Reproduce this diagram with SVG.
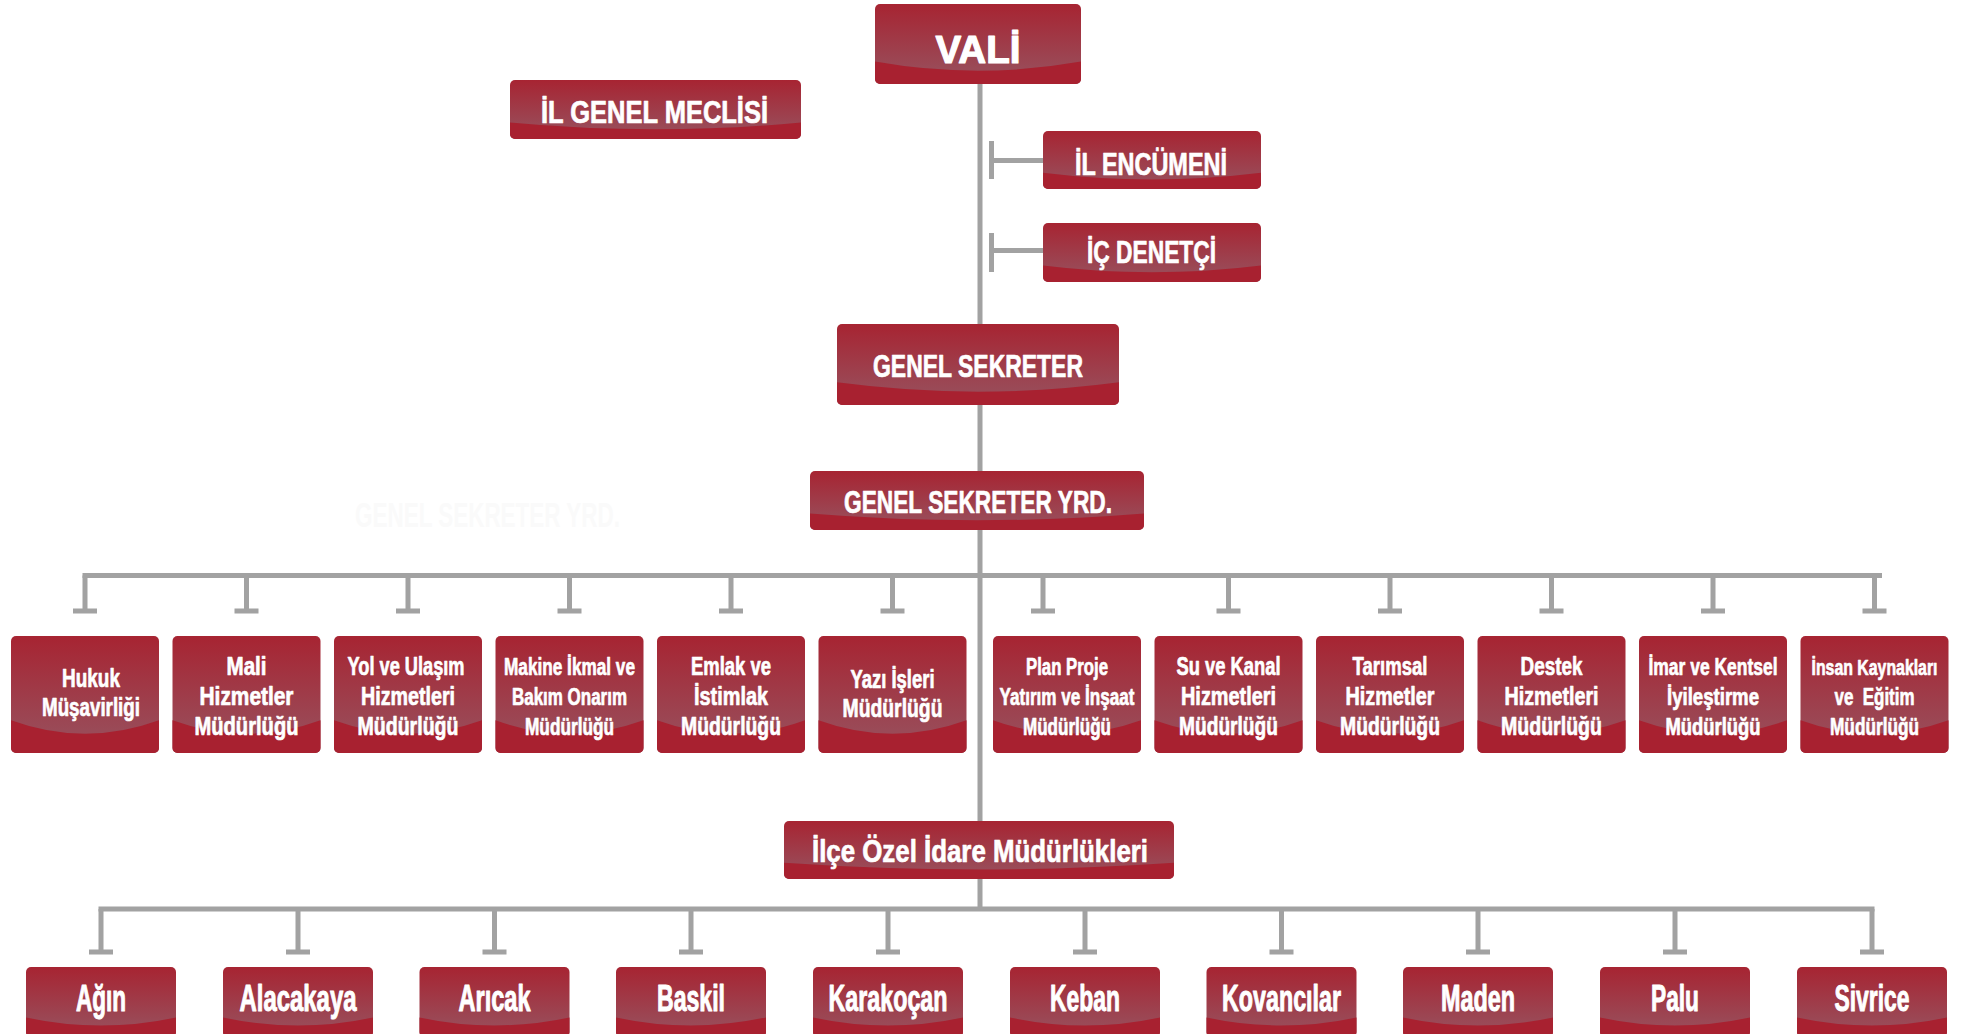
<svg xmlns="http://www.w3.org/2000/svg" xmlns:xlink="http://www.w3.org/1999/xlink" width="1961" height="1034" viewBox="0 0 1961 1034">
<style>
.t{font-family:"Liberation Sans Narrow","Liberation Sans",Arial,sans-serif;font-weight:bold;fill:#ffffff;text-anchor:middle;stroke:#ffffff;stroke-width:0.7px;stroke-linejoin:round}
.d{font-size:26px}
.ds{font-size:24px}
.dd{font-size:36px;stroke-width:1px}
.h{font-size:31px}
.bot{fill:#a82130}
.glo{fill:url(#gl)}
#connectors path{stroke:#a2a2a2;stroke-width:5;fill:none}
</style>
<defs>
<linearGradient id="gl" x1="0" y1="0" x2="0" y2="1">
<stop offset="0" stop-color="#a72432"/>
<stop offset="0.8" stop-color="#9a4a57"/>
<stop offset="1" stop-color="#9a4c59"/>
</linearGradient>
<g id="deptShape"><rect class="glo" width="148" height="117" rx="5"/><path class="bot" d="M0,84.2 Q74,111.2 148,84.2 V112 A5,5 0 0 1 143,117 H5 A5,5 0 0 1 0,112 Z"/></g>
<g id="distShape"><rect class="glo" width="150" height="70" rx="5"/><path class="bot" d="M0,50.4 Q75,66.5 150,50.4 V65 A5,5 0 0 1 145,70 H5 A5,5 0 0 1 0,65 Z"/></g>
</defs>
<rect width="1961" height="1034" fill="#ffffff"/>
<text x="487.5" y="527" font-size="35" font-weight="bold" text-anchor="middle" font-family="'Liberation Sans Narrow','Liberation Sans',Arial,sans-serif" textLength="265" lengthAdjust="spacingAndGlyphs" fill="#fafafa">GENEL SEKRETER YRD.</text>
<g id="connectors">
<path d="M980,84 V909"/>
<path d="M991.5,160.5 H1043 M991.5,141 V179"/>
<path d="M991.5,250.5 H1043 M991.5,233 V272"/>
<path d="M82.5,575.5 H1882"/>
<path d="M85,575.5 V611 M73,611 H97"/>
<path d="M246.5,575.5 V611 M234.5,611 H258.5"/>
<path d="M408,575.5 V611 M396,611 H420"/>
<path d="M569.5,575.5 V611 M557.5,611 H581.5"/>
<path d="M731,575.5 V611 M719,611 H743"/>
<path d="M892.5,575.5 V611 M880.5,611 H904.5"/>
<path d="M1043,575.5 V611 M1031,611 H1055"/>
<path d="M1228.5,575.5 V611 M1216.5,611 H1240.5"/>
<path d="M1390,575.5 V611 M1378,611 H1402"/>
<path d="M1551.5,575.5 V611 M1539.5,611 H1563.5"/>
<path d="M1713,575.5 V611 M1701,611 H1725"/>
<path d="M1874.5,575.5 V611 M1862.5,611 H1886.5"/>
<path d="M98.5,909 H1874.5"/>
<path d="M101,909 V952 M89,952 H113"/>
<path d="M298,909 V952 M286,952 H310"/>
<path d="M494.5,909 V952 M482.5,952 H506.5"/>
<path d="M691,909 V952 M679,952 H703"/>
<path d="M888,909 V952 M876,952 H900"/>
<path d="M1085,909 V952 M1073,952 H1097"/>
<path d="M1281.5,909 V952 M1269.5,952 H1293.5"/>
<path d="M1478,909 V952 M1466,952 H1490"/>
<path d="M1675,909 V952 M1663,952 H1687"/>
<path d="M1872,909 V952 M1860,952 H1884"/>
</g>
<g id="n-vali">
<rect class="glo" x="875" y="4" width="206" height="80" rx="5"/>
<path class="bot" d="M875,61.6 Q978,80 1081,61.6 V79 A5,5 0 0 1 1076,84 H880 A5,5 0 0 1 875,79 Z"/>
<text class="t" x="978" y="63" style="font-family:'Liberation Sans',Arial,sans-serif;stroke-width:1.2px" font-size="39" textLength="85" lengthAdjust="spacingAndGlyphs">VALİ</text>
</g>
<g id="n-meclis">
<rect class="glo" x="510" y="80" width="291" height="59" rx="5"/>
<path class="bot" d="M510,122.5 Q655.5,136 801,122.5 V134 A5,5 0 0 1 796,139 H515 A5,5 0 0 1 510,134 Z"/>
<text class="t h" x="654.5" y="123" textLength="227" lengthAdjust="spacingAndGlyphs">İL GENEL MECLİSİ</text>
</g>
<g id="n-encumen">
<rect class="glo" x="1043" y="131" width="218" height="58" rx="5"/>
<path class="bot" d="M1043,172.8 Q1152,186.1 1261,172.8 V184 A5,5 0 0 1 1256,189 H1048 A5,5 0 0 1 1043,184 Z"/>
<text class="t h" x="1151" y="175" textLength="152" lengthAdjust="spacingAndGlyphs">İL ENCÜMENİ</text>
</g>
<g id="n-denetci">
<rect class="glo" x="1043" y="223" width="218" height="59" rx="5"/>
<path class="bot" d="M1043,265.5 Q1152,279 1261,265.5 V277 A5,5 0 0 1 1256,282 H1048 A5,5 0 0 1 1043,277 Z"/>
<text class="t h" x="1151.5" y="263" textLength="129" lengthAdjust="spacingAndGlyphs">İÇ DENETÇİ</text>
</g>
<g id="n-gs">
<rect class="glo" x="837" y="324" width="282" height="81" rx="5"/>
<path class="bot" d="M837,382.3 Q978,401 1119,382.3 V400 A5,5 0 0 1 1114,405 H842 A5,5 0 0 1 837,400 Z"/>
<text class="t h" x="978" y="377" textLength="210" lengthAdjust="spacingAndGlyphs">GENEL SEKRETER</text>
</g>
<g id="n-gsy">
<rect class="glo" x="810" y="471" width="334" height="59" rx="5"/>
<path class="bot" d="M810,513.5 Q977,527 1144,513.5 V525 A5,5 0 0 1 1139,530 H815 A5,5 0 0 1 810,525 Z"/>
<text class="t h" x="978" y="513" font-size="29" textLength="268" lengthAdjust="spacingAndGlyphs">GENEL SEKRETER YRD.</text>
</g>
<g id="n-hukuk" transform="translate(11,636)"><use href="#deptShape"/>
<text class="t d" x="80" y="51" textLength="58" lengthAdjust="spacingAndGlyphs">Hukuk</text>
<text class="t d" x="80" y="80" textLength="98" lengthAdjust="spacingAndGlyphs">Müşavirliği</text></g>
<g id="n-mali" transform="translate(172.5,636)"><use href="#deptShape"/>
<text class="t d" x="74" y="39" textLength="40" lengthAdjust="spacingAndGlyphs">Mali</text>
<text class="t d" x="74" y="69" textLength="94" lengthAdjust="spacingAndGlyphs">Hizmetler</text>
<text class="t d" x="74" y="99" textLength="104" lengthAdjust="spacingAndGlyphs">Müdürlüğü</text></g>
<g id="n-yol" transform="translate(334,636)"><use href="#deptShape"/>
<text class="t d" x="72" y="39" textLength="117" lengthAdjust="spacingAndGlyphs">Yol ve Ulaşım</text>
<text class="t d" x="74" y="69" textLength="94" lengthAdjust="spacingAndGlyphs">Hizmetleri</text>
<text class="t d" x="74" y="99" textLength="101" lengthAdjust="spacingAndGlyphs">Müdürlüğü</text></g>
<g id="n-makine" transform="translate(495.5,636)"><use href="#deptShape"/>
<text class="t ds" x="74" y="39" textLength="131" lengthAdjust="spacingAndGlyphs">Makine İkmal ve</text>
<text class="t ds" x="74" y="69" textLength="115" lengthAdjust="spacingAndGlyphs">Bakım Onarım</text>
<text class="t ds" x="74" y="99" textLength="89" lengthAdjust="spacingAndGlyphs">Müdürlüğü</text></g>
<g id="n-emlak" transform="translate(657,636)"><use href="#deptShape"/>
<text class="t d" x="74" y="39" textLength="80" lengthAdjust="spacingAndGlyphs">Emlak ve</text>
<text class="t d" x="74" y="69" textLength="74" lengthAdjust="spacingAndGlyphs">İstimlak</text>
<text class="t d" x="74" y="99" textLength="100" lengthAdjust="spacingAndGlyphs">Müdürlüğü</text></g>
<g id="n-yazi" transform="translate(818.5,636)"><use href="#deptShape"/>
<text class="t d" x="74" y="52" textLength="84" lengthAdjust="spacingAndGlyphs">Yazı İşleri</text>
<text class="t d" x="74" y="81" textLength="100" lengthAdjust="spacingAndGlyphs">Müdürlüğü</text></g>
<g id="n-plan" transform="translate(993,636)"><use href="#deptShape"/>
<text class="t ds" x="74" y="39" textLength="82" lengthAdjust="spacingAndGlyphs">Plan Proje</text>
<text class="t ds" x="74" y="69" textLength="135" lengthAdjust="spacingAndGlyphs">Yatırım ve İnşaat</text>
<text class="t ds" x="74" y="99" textLength="88" lengthAdjust="spacingAndGlyphs">Müdürlüğü</text></g>
<g id="n-su" transform="translate(1154.5,636)"><use href="#deptShape"/>
<text class="t d" x="74" y="39" textLength="104" lengthAdjust="spacingAndGlyphs">Su ve Kanal</text>
<text class="t d" x="74" y="69" textLength="95" lengthAdjust="spacingAndGlyphs">Hizmetleri</text>
<text class="t d" x="74" y="99" textLength="99" lengthAdjust="spacingAndGlyphs">Müdürlüğü</text></g>
<g id="n-tarim" transform="translate(1316,636)"><use href="#deptShape"/>
<text class="t d" x="74" y="39" textLength="75" lengthAdjust="spacingAndGlyphs">Tarımsal</text>
<text class="t d" x="74" y="69" textLength="89" lengthAdjust="spacingAndGlyphs">Hizmetler</text>
<text class="t d" x="74" y="99" textLength="100" lengthAdjust="spacingAndGlyphs">Müdürlüğü</text></g>
<g id="n-destek" transform="translate(1477.5,636)"><use href="#deptShape"/>
<text class="t d" x="74" y="39" textLength="62" lengthAdjust="spacingAndGlyphs">Destek</text>
<text class="t d" x="74" y="69" textLength="94" lengthAdjust="spacingAndGlyphs">Hizmetleri</text>
<text class="t d" x="74" y="99" textLength="101" lengthAdjust="spacingAndGlyphs">Müdürlüğü</text></g>
<g id="n-imar" transform="translate(1639,636)"><use href="#deptShape"/>
<text class="t ds" x="74" y="39" textLength="129" lengthAdjust="spacingAndGlyphs">İmar ve Kentsel</text>
<text class="t ds" x="74" y="69" textLength="92" lengthAdjust="spacingAndGlyphs">İyileştirme</text>
<text class="t ds" x="74" y="99" textLength="95" lengthAdjust="spacingAndGlyphs">Müdürlüğü</text></g>
<g id="n-insan" transform="translate(1800.5,636)"><use href="#deptShape"/>
<text class="t ds" x="74" y="39" font-size="22" style="font-size:22px" textLength="126" lengthAdjust="spacingAndGlyphs">İnsan Kaynakları</text>
<text class="t ds" x="74" y="69" textLength="80" lengthAdjust="spacingAndGlyphs" xml:space="preserve">ve  Eğitim</text>
<text class="t ds" x="74" y="99" textLength="89" lengthAdjust="spacingAndGlyphs">Müdürlüğü</text></g>
<g id="n-ilce">
<rect class="glo" x="784" y="821" width="390" height="58" rx="5"/>
<path class="bot" d="M784,862.8 Q979,876.1 1174,862.8 V874 A5,5 0 0 1 1169,879 H789 A5,5 0 0 1 784,874 Z"/>
<text class="t h" x="980" y="862" textLength="336" lengthAdjust="spacingAndGlyphs">İlçe Özel İdare Müdürlükleri</text>
</g>
<g id="n-agin" transform="translate(26,967)"><use href="#distShape"/><text class="t dd" x="75" y="44" textLength="50" lengthAdjust="spacingAndGlyphs">Ağın</text></g>
<g id="n-alacakaya" transform="translate(223,967)"><use href="#distShape"/><text class="t dd" x="75" y="44" textLength="117" lengthAdjust="spacingAndGlyphs">Alacakaya</text></g>
<g id="n-aricak" transform="translate(419.5,967)"><use href="#distShape"/><text class="t dd" x="75" y="44" textLength="72" lengthAdjust="spacingAndGlyphs">Arıcak</text></g>
<g id="n-baskil" transform="translate(616,967)"><use href="#distShape"/><text class="t dd" x="75" y="44" textLength="68" lengthAdjust="spacingAndGlyphs">Baskil</text></g>
<g id="n-karakocan" transform="translate(813,967)"><use href="#distShape"/><text class="t dd" x="75" y="44" textLength="119" lengthAdjust="spacingAndGlyphs">Karakoçan</text></g>
<g id="n-keban" transform="translate(1010,967)"><use href="#distShape"/><text class="t dd" x="75" y="44" textLength="70" lengthAdjust="spacingAndGlyphs">Keban</text></g>
<g id="n-kovancilar" transform="translate(1206.5,967)"><use href="#distShape"/><text class="t dd" x="75" y="44" textLength="119" lengthAdjust="spacingAndGlyphs">Kovancılar</text></g>
<g id="n-maden" transform="translate(1403,967)"><use href="#distShape"/><text class="t dd" x="75" y="44" textLength="74" lengthAdjust="spacingAndGlyphs">Maden</text></g>
<g id="n-palu" transform="translate(1600,967)"><use href="#distShape"/><text class="t dd" x="75" y="44" textLength="48" lengthAdjust="spacingAndGlyphs">Palu</text></g>
<g id="n-sivrice" transform="translate(1797,967)"><use href="#distShape"/><text class="t dd" x="75" y="44" textLength="75" lengthAdjust="spacingAndGlyphs">Sivrice</text></g>
</svg>
